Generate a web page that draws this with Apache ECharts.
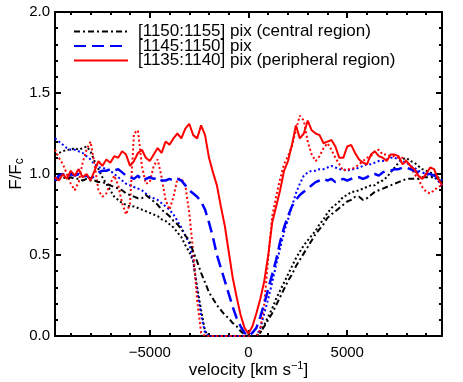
<!DOCTYPE html>
<html>
<head>
<meta charset="utf-8">
<script src="https://cdn.jsdelivr.net/npm/echarts@6/dist/echarts.min.js"></script>
<style>
  html, body { margin: 0; padding: 0; background: #fff; }
  #chart { width: 463px; height: 382px; }
</style>
</head>
<body>
<div id="chart"></div>
<script>
// velocity grid (km/s)
const velocity = [
  -9800, -9600, -9400, -9200, -9000, -8800, -8600, -8400, -8200, -8000,
  -7800, -7600, -7400, -7200, -7000, -6800, -6600, -6400, -6200, -6000,
  -5800, -5600, -5400, -5200, -5000, -4800, -4600, -4400, -4200, -4000,
  -3800, -3600, -3400, -3200, -3000, -2800, -2600, -2400, -2200, -2000,
  -1800, -1600, -1400, -1200, -1000, -800, -600, -400, -200, 0,
  200, 400, 600, 800, 1000, 1200, 1400, 1600, 1800, 2000,
  2200, 2400, 2600, 2800, 3000, 3200, 3400, 3600, 3800, 4000,
  4200, 4400, 4600, 4800, 5000, 5200, 5400, 5600, 5800, 6000,
  6200, 6400, 6600, 6800, 7000, 7200, 7400, 7600, 7800, 8000,
  8200, 8400, 8600, 8800, 9000, 9200, 9400, 9600, 9800
]

// [1150:1155] pix (central region)
const central = [
  0.96, 0.97, 0.98, 0.97, 0.98, 0.97, 0.97, 0.96, 0.97, 0.96,
  0.96, 0.95, 0.95, 0.94, 0.93, 0.92, 0.91, 0.90, 0.88, 0.87,
  0.86, 0.85, 0.85, 0.87, 0.85, 0.83, 0.81, 0.78, 0.76, 0.74,
  0.71, 0.69, 0.66, 0.62, 0.59, 0.52, 0.46, 0.39, 0.33, 0.27,
  0.23, 0.19, 0.16, 0.13, 0.11, 0.08, 0.06, 0.03, 0.01, 0.00,
  0.00, 0.00, 0.02, 0.06, 0.10, 0.14, 0.19, 0.24, 0.29, 0.34,
  0.38, 0.43, 0.47, 0.51, 0.55, 0.59, 0.63, 0.66, 0.69, 0.73,
  0.75, 0.77, 0.79, 0.81, 0.83, 0.84, 0.86, 0.86, 0.84, 0.85,
  0.87, 0.89, 0.90, 0.91, 0.92, 0.93, 0.94, 0.95, 0.96, 0.97,
  0.97, 0.97, 0.97, 0.98, 0.98, 0.98, 0.98, 0.97, 0.95
]
// [1145:1150] pix
const middle = [
  0.96, 0.99, 1.00, 0.98, 1.00, 0.99, 1.00, 0.98, 0.99, 0.97,
  0.99, 1.01, 1.02, 1.02, 1.03, 1.02, 1.03, 1.01, 0.99, 0.98,
  0.97, 0.99, 0.96, 0.97, 0.98, 0.97, 0.98, 0.96, 0.96, 0.97,
  0.96, 0.97, 0.96, 0.93, 0.90, 0.88, 0.86, 0.83, 0.78, 0.70,
  0.61, 0.50, 0.42, 0.34, 0.26, 0.18, 0.11, 0.06, 0.02, 0.00,
  0.02, 0.05, 0.12, 0.20, 0.29, 0.38, 0.47, 0.58, 0.67, 0.74,
  0.80, 0.84, 0.87, 0.89, 0.91, 0.93, 0.95, 0.96, 0.97, 0.96,
  0.97, 0.95, 0.96, 0.97, 0.96, 0.97, 0.98, 0.98, 0.97, 0.98,
  1.00, 1.00, 0.99, 1.01, 1.02, 1.02, 1.03, 1.03, 1.04, 1.04,
  1.03, 1.02, 1.01, 1.00, 1.00, 1.00, 0.99, 0.98, 0.96
]
// [1135:1140] pix (peripheral region)
const peripheral = [
  0.98, 0.96, 1.00, 0.97, 1.02, 0.99, 1.03, 0.98, 1.00, 0.96,
  1.02, 1.08, 1.05, 1.09, 1.07, 1.11, 1.10, 1.14, 1.12, 1.05,
  1.08, 1.13, 1.15, 1.10, 1.08, 1.12, 1.16, 1.13, 1.20, 1.18,
  1.22, 1.25, 1.22, 1.28, 1.31, 1.24, 1.22, 1.30, 1.24, 1.10,
  1.01, 0.93, 0.80, 0.68, 0.52, 0.36, 0.24, 0.13, 0.05, 0.015,
  0.06, 0.14, 0.23, 0.34, 0.50, 0.70, 0.80, 0.90, 1.02, 1.08,
  1.18, 1.30, 1.22, 1.25, 1.33, 1.27, 1.25, 1.24, 1.19, 1.20,
  1.21, 1.17, 1.10, 1.10, 1.17, 1.18, 1.13, 1.09, 1.07, 1.06,
  1.12, 1.14, 1.11, 1.10, 1.08, 1.12, 1.12, 1.11, 1.06, 1.08,
  1.05, 1.03, 0.99, 0.97, 1.00, 1.04, 1.03, 0.97, 0.93
]

// dotted curves (same regions, second profile)
const centralDot = [
  1.12, 1.13, 1.14, 1.15, 1.15, 1.16, 1.15, 1.16, 1.17, 1.14,
  1.08, 1.03, 0.98, 0.94, 0.90, 0.86, 0.84, 0.82, 0.81, 0.80,
  0.80, 0.79, 0.78, 0.77, 0.76, 0.75, 0.74, 0.72, 0.71, 0.69,
  0.67, 0.64, 0.61, 0.56, 0.52, 0.46, 0.30, 0.16, 0.03, 0.00,
  0.00, 0.00, 0.00, 0.00, 0.00, 0.00, 0.00, 0.00, 0.00, 0.00,
  0.00, 0.00, 0.02, 0.07, 0.12, 0.17, 0.23, 0.28, 0.33, 0.38,
  0.43, 0.48, 0.52, 0.56, 0.59, 0.62, 0.65, 0.69, 0.72, 0.76,
  0.79, 0.81, 0.83, 0.86, 0.87, 0.89, 0.89, 0.90, 0.91, 0.92,
  0.93, 0.93, 0.95, 0.96, 0.98, 1.01, 1.04, 1.07, 1.09, 1.10,
  1.08, 1.07, 1.05, 1.03, 1.02, 1.01, 1.00, 0.98, 0.95
]
const middleDot = [
  1.22, 1.20, 1.18, 1.16, 1.15, 1.15, 1.14, 1.13, 1.11, 1.09,
  1.06, 1.04, 1.04, 1.03, 1.02, 1.00, 0.98, 0.96, 0.94, 0.93,
  0.92, 0.91, 0.90, 0.88, 0.86, 0.85, 0.84, 0.82, 0.80, 0.78,
  0.75, 0.71, 0.67, 0.62, 0.57, 0.47, 0.28, 0.13, 0.02, 0.00,
  0.00, 0.00, 0.00, 0.00, 0.00, 0.00, 0.00, 0.00, 0.00, 0.00,
  0.00, 0.00, 0.05, 0.14, 0.23, 0.33, 0.44, 0.54, 0.64, 0.72,
  0.80, 0.88, 0.94, 0.99, 1.01, 1.02, 1.02, 1.03, 1.03, 1.04,
  1.05, 1.04, 1.03, 1.03, 1.02, 1.03, 1.03, 1.04, 1.05, 1.06,
  1.06, 1.07, 1.08, 1.08, 1.09, 1.10, 1.10, 1.09, 1.08, 1.07,
  1.05, 1.04, 1.02, 1.01, 1.00, 0.99, 0.98, 0.96, 0.92
]
const peripheralDot = [
  1.15, 1.10, 1.06, 1.00, 0.94, 0.90, 0.95, 1.07, 1.15, 1.20,
  1.06, 0.90, 0.86, 0.88, 0.94, 0.99, 0.93, 0.82, 0.75, 0.82,
  1.25, 1.27, 1.05, 0.94, 0.95, 1.05, 1.09, 0.98, 0.84, 0.78,
  0.86, 0.97, 0.97, 0.93, 0.76, 0.52, 0.22, 0.02, 0.00, 0.00,
  0.00, 0.00, 0.00, 0.00, 0.00, 0.00, 0.00, 0.00, 0.00, 0.00,
  0.00, 0.00, 0.04, 0.20, 0.48, 0.74, 0.86, 0.97, 1.06, 1.11,
  1.17, 1.27, 1.36, 1.33, 1.20, 1.12, 1.08, 1.11, 1.16, 1.19,
  1.15, 1.10, 1.06, 1.02, 1.03, 1.03, 1.04, 1.06, 1.08, 1.10,
  1.11, 1.14, 1.15, 1.12, 1.12, 1.11, 1.11, 1.10, 1.10, 1.08,
  1.05, 1.00, 0.97, 0.92, 0.89, 0.88, 0.90, 0.92, 0.93
]

const legendNames = [
  '[1150:1155] pix (central region)',
  '[1145:1150] pix',
  '[1135:1140] pix (peripheral region)'
]
const xMajorTicks = [-5000, 0, 5000]
const xMinorTicks = [-9000, -8000, -7000, -6000, -4000, -3000, -2000, -1000,
  1000, 2000, 3000, 4000, 6000, 7000, 8000, 9000]

const FONT = '"Liberation Sans", Arial, Helvetica, sans-serif'
const chart = echarts.init(document.getElementById('chart'))

const pairs = arr => velocity.map((v, i) => [v, arr[i]])

const xAxisOf = (position, ticks, len, showLine, title) => ({
  type: 'value',
  position,
  min: -9800,
  max: 9800,
  name: title,
  nameLocation: 'middle',
  nameGap: 24,
  nameMoveOverlap: false,
  nameTextStyle: {
    color: '#000', fontSize: 17, fontFamily: FONT,
    rich: { sup: { fontSize: 11, fontFamily: FONT, color: '#000', padding: [0, 0, 9, 0] } }
  },
  axisLine: { show: showLine, onZero: false, lineStyle: { color: '#000', width: 2 } },
  axisTick: { show: true, inside: true, length: len, customValues: ticks, lineStyle: { color: '#000', width: 2 } },
  axisLabel: {
    show: position === 'bottom' && showLine,
    customValues: xMajorTicks,
    margin: 9,
    color: '#000',
    fontSize: 15,
    fontFamily: FONT,
    formatter: v => String(v).replace('-', '\u2212')
  },
  splitLine: { show: false }
})

const yAxisOf = (position, isMain) => ({
  type: 'value',
  position,
  min: 0,
  max: 2,
  interval: 0.5,
  name: isMain ? 'F/F{sub|c}' : '',
  nameLocation: 'middle',
  nameGap: 29,
  nameMoveOverlap: false,
  nameTextStyle: {
    color: '#000', fontSize: 17, fontFamily: FONT,
    rich: { sub: { fontSize: 12, fontFamily: FONT, color: '#000', padding: [7, 0, 0, 0] } }
  },
  axisLine: { show: true, onZero: false, lineStyle: { color: '#000', width: 2 } },
  axisTick: { show: true, inside: true, length: 6, lineStyle: { color: '#000', width: 2 } },
  minorTick: { show: true, splitNumber: 5, length: 3, lineStyle: { color: '#000', width: 2 } },
  axisLabel: {
    show: isMain,
    margin: 5,
    color: '#000',
    fontSize: 15,
    fontFamily: FONT,
    formatter: v => v.toFixed(1)
  },
  splitLine: { show: false },
  minorSplitLine: { show: false }
})

const lineSeries = (name, data, color, type, width) => ({
  name,
  type: 'line',
  data: pairs(data),
  symbol: 'none',
  showSymbol: false,
  animation: false,
  lineStyle: { color, width, type, cap: 'butt' },
  itemStyle: { color }
})

const option = {
  animation: false,
  backgroundColor: '#fff',
  grid: { left: 55, right: 21, top: 12, bottom: 46, containLabel: false, outerBoundsMode: 'none' },
  legend: {
    data: legendNames,
    orient: 'vertical',
    left: 73,
    top: 23,
    padding: 0,
    itemWidth: 54,
    itemHeight: 10,
    itemGap: -2.5,
    selectedMode: false,
    itemStyle: { opacity: 0 },
    textStyle: { color: '#000', fontSize: 17, lineHeight: 14, fontFamily: FONT, padding: [0, 0, 0, 5] }
  },
  xAxis: [
    xAxisOf('bottom', xMajorTicks, 6, true, 'velocity [km s{sup|\u22121}]'),
    xAxisOf('bottom', xMinorTicks, 3, false, ''),
    xAxisOf('top', xMajorTicks, 6, true, ''),
    xAxisOf('top', xMinorTicks, 3, false, '')
  ],
  yAxis: [yAxisOf('left', true), yAxisOf('right', false)],
  series: [
    lineSeries('central dotted', centralDot, '#000000', [2, 2.5], 2),
    lineSeries('middle dotted', middleDot, '#0000ff', [2, 2.5], 2),
    lineSeries('peripheral dotted', peripheralDot, '#ff0000', [2, 2.5], 2),
    lineSeries(legendNames[0], central, '#000000', [6, 3, 2, 3], 2),
    lineSeries(legendNames[1], middle, '#0000ff', [12, 6], 2.5),
    lineSeries(legendNames[2], peripheral, '#ff0000', 'solid', 2)
  ]
}
chart.setOption(option)
</script>
</body>
</html>
